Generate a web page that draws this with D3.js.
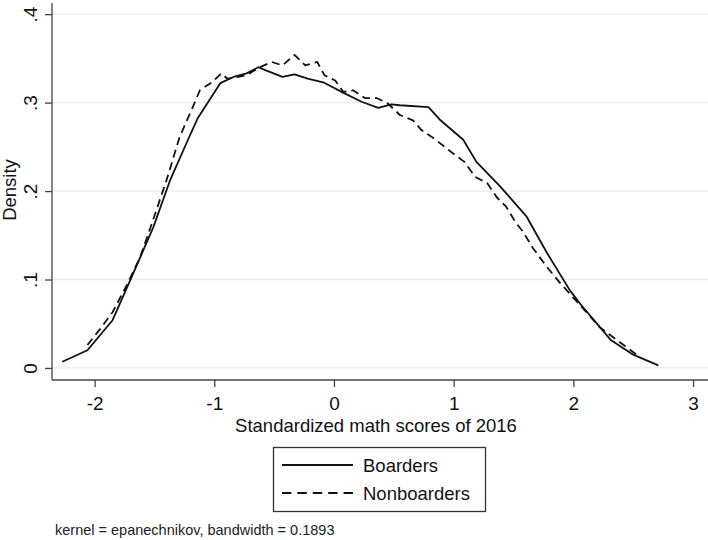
<!DOCTYPE html>
<html>
<head>
<meta charset="utf-8">
<script src="https://cdn.jsdelivr.net/npm/d3@7"></script>
<style>
  body { margin: 0; background: #fff; }
  svg { display: block; font-family: "Liberation Sans", Arial, sans-serif; }
</style>
</head>
<body>
<svg id="chart" width="708" height="540"></svg>
<script>
// kernel density estimates
const boardersX = [-2.27, -2.06, -1.85, -1.69, -1.51, -1.37, -1.22, -1.14, -0.95, -0.84, -0.73, -0.63, -0.58, -0.43, -0.33, -0.22, -0.09, 0.08, 0.23, 0.37, 0.48, 0.55, 0.79, 0.89, 1.08, 1.19, 1.39, 1.61, 1.78, 1.97, 2.06, 2.31, 2.50, 2.71];
const boardersY = [0.007, 0.020, 0.054, 0.103, 0.159, 0.212, 0.258, 0.282, 0.322, 0.329, 0.333, 0.340, 0.337, 0.329, 0.332, 0.327, 0.323, 0.311, 0.301, 0.294, 0.298, 0.297, 0.295, 0.280, 0.258, 0.233, 0.205, 0.171, 0.130, 0.088, 0.072, 0.032, 0.015, 0.003];
const nonboardersX = [-2.06, -1.96, -1.85, -1.73, -1.62, -1.52, -1.40, -1.29, -1.18, -1.12, -1.02, -0.94, -0.89, -0.80, -0.73, -0.62, -0.52, -0.43, -0.33, -0.24, -0.14, -0.08, 0.01, 0.08, 0.16, 0.26, 0.36, 0.45, 0.55, 0.66, 0.73, 0.83, 0.99, 1.09, 1.18, 1.28, 1.36, 1.44, 1.52, 1.58, 1.66, 1.78, 1.89, 2.03, 2.22, 2.36, 2.53];
const nonboardersY = [0.026, 0.043, 0.063, 0.094, 0.125, 0.164, 0.212, 0.261, 0.295, 0.314, 0.323, 0.333, 0.327, 0.329, 0.331, 0.340, 0.346, 0.342, 0.354, 0.342, 0.346, 0.331, 0.325, 0.312, 0.314, 0.305, 0.305, 0.299, 0.286, 0.280, 0.269, 0.260, 0.243, 0.233, 0.216, 0.209, 0.193, 0.182, 0.164, 0.154, 0.136, 0.114, 0.096, 0.075, 0.046, 0.032, 0.015];
const xTicks = [-2, -1, 0, 1, 2, 3];
const yTicks = [0, 0.1, 0.2, 0.3, 0.4];
const yTickLabels = ["0", ".1", ".2", ".3", ".4"];
const seriesNames = ["Boarders", "Nonboarders"];

const svg = d3.select("#chart");
const plotL = 52, plotR = 708, plotT = 0, plotB = 380;

const x = d3.scaleLinear().domain([-2.356, 3.125]).range([plotL, plotR]);
const y = d3.scaleLinear().domain([-0.0136, 0.416]).range([plotB, plotT]);

// gridlines
svg.append("g").selectAll("line").data(yTicks).join("line")
  .attr("x1", plotL).attr("x2", plotR)
  .attr("y1", d => y(d)).attr("y2", d => y(d))
  .attr("stroke", "#e2eff1").attr("stroke-width", 1.3);

// y axis
const yAxis = svg.append("g").attr("transform", `translate(${plotL},0)`)
  .call(d3.axisLeft(y).tickValues(yTicks).tickSize(7).tickFormat((d, i) => yTickLabels[i]));
yAxis.select(".domain").attr("d", `M0,${plotT + 3}V${plotB}`).attr("stroke", "#444").attr("stroke-width", 1.3);
yAxis.selectAll(".tick line").attr("stroke", "#444").attr("stroke-width", 1.3);
yAxis.selectAll(".tick text")
  .attr("font-size", 19).attr("fill", "#111")
  .attr("transform", "rotate(-90)")
  .attr("x", 0).attr("y", -15)
  .attr("dy", "0").attr("text-anchor", "middle");

// x axis
const xAxis = svg.append("g").attr("transform", `translate(0,${plotB})`)
  .call(d3.axisBottom(x).tickValues(xTicks).tickSize(7).tickFormat(d => (d < 0 ? "-" : "") + Math.abs(d)));
xAxis.select(".domain").attr("d", `M${plotL},0H${plotR}`).attr("stroke", "#444").attr("stroke-width", 1.3);
xAxis.selectAll(".tick line").attr("stroke", "#444").attr("stroke-width", 1.3);
xAxis.selectAll(".tick text").attr("font-size", 19).attr("fill", "#111").attr("y", 17);

// axis titles
svg.append("text").attr("x", 376).attr("y", 432)
  .attr("text-anchor", "middle").attr("font-size", 18.5).attr("fill", "#111")
  .text("Standardized math scores of 2016");
svg.append("text").attr("transform", `translate(16,${(plotT + plotB) / 2}) rotate(-90)`)
  .attr("text-anchor", "middle").attr("font-size", 18.5).attr("fill", "#111")
  .text("Density");

// density lines
const line = d3.line().x(d => x(d[0])).y(d => y(d[1]));
const series = [
  { pts: d3.zip(boardersX, boardersY), dash: null, legendDash: null },
  { pts: d3.zip(nonboardersX, nonboardersY), dash: "8,5", legendDash: "9.4,6" }
];
svg.append("g").selectAll("path").data(series).join("path")
  .attr("d", d => line(d.pts))
  .attr("fill", "none").attr("stroke", "#111").attr("stroke-width", 1.8)
  .attr("stroke-linejoin", "round")
  .attr("stroke-dasharray", d => d.dash);

// legend
const legend = svg.append("g");
legend.append("rect").attr("x", 273.5).attr("y", 447.5).attr("width", 212).attr("height", 64)
  .attr("fill", "#fff").attr("stroke", "#333").attr("stroke-width", 1.3);
const items = legend.selectAll("g.item").data(seriesNames).join("g")
  .attr("class", "item").attr("transform", (d, i) => `translate(282,${465 + i * 28})`);
items.append("line").attr("x1", 0).attr("x2", 71)
  .attr("stroke", "#111").attr("stroke-width", 1.8)
  .attr("stroke-dasharray", (d, i) => series[i].legendDash);
items.append("text").attr("x", 81).attr("y", 7)
  .attr("font-size", 18.5).attr("fill", "#111").text(d => d);

// note
svg.append("text").attr("x", 55).attr("y", 535)
  .attr("font-size", 14.5).attr("fill", "#222")
  .text("kernel = epanechnikov, bandwidth = 0.1893");
</script>
</body>
</html>
